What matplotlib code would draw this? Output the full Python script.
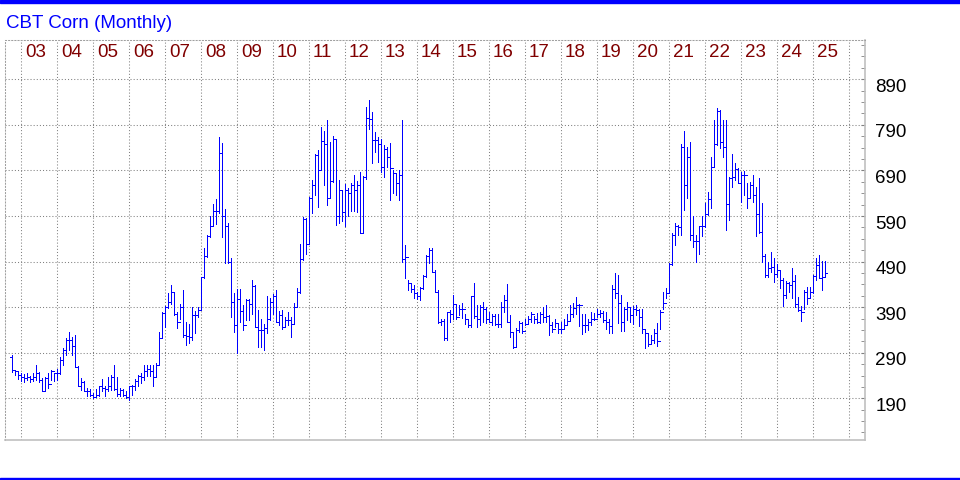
import matplotlib
matplotlib.use("Agg")
import matplotlib.pyplot as plt
import numpy as np
from matplotlib.patches import Rectangle
from matplotlib.transforms import ScaledTranslation, blended_transform_factory

plt.rcParams['font.family'] = ['Liberation Sans', 'DejaVu Sans']

# ---- data (monthly bars, first bar = Sep 2002) ----
start_year = 2002
start_month = 9

highs = [285,252,248,245,243,246,239,245,263,248,
         234,236,245,252,246,254,281,300,322,336,
         325,329,260,234,229,212,210,201,210,217,
         232,216,236,241,263,236,212,210,205,217,
         219,232,241,246,263,262,263,263,267,335,
         380,393,420,439,420,380,397,428,358,354,
         390,382,391,457,519,548,589,616,627,764,
         750,605,574,497,422,429,429,395,407,407,
         450,439,384,365,353,414,409,418,428,382,
         384,369,380,369,400,431,529,588,585,632,
         669,727,735,786,777,801,753,765,758,669,
         647,660,651,662,680,667,687,678,830,845,
         819,775,764,758,746,742,751,691,684,691,
         801,526,450,444,438,424,435,461,504,519,
         519,472,428,365,365,380,384,417,395,395,
         400,376,365,414,444,395,395,402,390,380,
         376,376,376,402,417,441,373,336,344,360,
         358,365,371,380,371,378,380,391,395,373,
         358,363,353,358,363,376,395,400,413,397,
         375,376,365,380,378,387,384,382,380,365,
         439,464,460,417,390,402,391,392,395,387,
         387,343,333,329,341,356,384,424,433,486,
         552,575,570,749,777,742,752,591,548,569,
         589,618,642,720,801,826,823,801,801,676,
         725,706,696,686,689,662,664,681,654,673,
         618,506,490,512,497,484,472,455,447,445,
         475,461,413,393,428,435,435,461,497,504,
         491,491]

lows = [248,241,232,229,226,230,226,229,230,226,
        205,205,212,230,229,230,244,263,285,296,
        285,258,216,208,205,195,194,190,192,195,
        205,194,205,208,208,195,195,194,190,186,
        197,208,216,223,230,238,240,216,237,263,
        322,347,388,398,373,344,365,325,308,311,
        319,334,369,384,455,500,545,570,572,596,
        545,486,486,369,336,289,358,340,362,362,
        376,349,303,303,297,333,362,376,358,350,
        343,346,351,324,354,391,422,493,507,528,
        596,636,609,690,658,614,632,665,570,575,
        578,568,590,602,602,599,552,553,672,780,
        706,731,709,687,676,698,625,640,636,625,
        490,453,427,424,411,407,406,430,456,486,
        468,424,356,351,318,318,358,363,363,373,
        366,354,347,347,366,347,351,358,356,358,
        351,351,347,347,380,358,325,300,303,336,
        333,351,353,358,356,355,356,358,358,328,
        336,347,334,333,343,351,362,369,376,349,
        331,336,340,351,362,369,369,358,343,333,
        334,409,355,338,338,362,358,353,373,349,
        333,300,305,311,312,305,343,385,409,420,
        482,526,548,548,603,629,537,523,488,506,
        547,565,592,607,698,745,739,720,559,581,
        654,669,662,621,637,608,632,621,547,552,
        490,457,457,468,446,457,433,393,409,424,
        409,391,382,360,387,398,410,422,450,453,
        428,457]

opens = [280,252,250,241,236,234,236,232,236,246,
         230,206,234,221,251,245,246,275,296,319,
         319,305,258,216,226,207,205,197,192,197,
         216,213,210,216,236,210,199,208,197,192,
         216,217,229,239,237,251,255,250,237,263,
         322,378,390,402,424,374,358,390,328,327,
         324,373,373,384,457,502,546,568,601,601,
         728,589,568,488,402,351,408,382,351,406,
         397,437,347,340,340,345,365,402,414,358,
         372,346,362,362,354,391,424,495,583,528,
         630,658,724,692,755,749,629,667,758,590,
         647,599,647,640,658,646,658,552,675,806,
         802,757,757,748,698,738,720,695,685,662,
         680,495,501,442,429,420,414,433,458,502,
         515,468,424,358,360,322,380,376,397,368,
         385,385,365,351,414,371,365,390,385,365,
         358,371,353,353,390,406,358,336,302,340,
         356,338,353,365,375,365,358,375,369,371,
         350,341,356,343,341,351,360,376,389,395,
         395,351,351,358,365,365,376,378,362,358,
         349,429,420,400,358,387,390,373,387,384,
         369,341,333,309,318,333,316,380,400,422,
         485,548,567,565,742,658,720,548,535,535,
         567,567,594,627,698,749,820,753,742,616,
         674,676,693,662,680,680,629,658,636,594,
         554,503,461,477,479,462,471,450,417,442,
         439,447,396,384,379,424,411,423,459,482,
         455,457]

closes = [252,250,241,236,234,236,232,236,246,230,
          206,234,221,251,245,246,275,296,319,319,
          305,258,216,226,207,205,197,192,197,216,
          213,210,216,236,210,199,208,197,192,216,
          217,229,239,237,251,255,250,237,263,322,
          378,390,402,424,374,358,390,328,327,324,
          373,373,384,457,502,546,568,601,601,728,
          589,568,488,402,351,408,382,351,406,397,
          437,347,340,340,345,365,402,414,358,372,
          346,362,362,354,391,424,495,583,528,630,
          658,724,692,755,749,629,667,758,590,647,
          599,647,640,658,646,658,552,675,806,802,
          757,757,748,698,738,720,695,685,662,680,
          495,501,442,429,420,414,433,458,502,515,
          468,424,358,360,322,380,376,397,368,385,
          385,365,351,414,371,365,390,385,365,358,
          371,353,353,390,406,358,336,302,340,356,
          338,353,365,375,365,358,375,369,371,350,
          341,356,343,341,351,360,376,389,395,395,
          351,351,358,365,365,376,378,362,358,349,
          429,420,400,358,387,390,373,387,384,369,
          341,333,309,318,333,316,380,400,422,485,
          548,567,565,742,658,720,548,535,535,567,
          567,594,627,698,749,820,753,742,616,674,
          676,693,662,680,680,629,658,636,594,554,
          503,461,477,479,462,471,450,417,442,439,
          447,396,384,379,424,411,423,459,482,455,
          457,466]

year_labels = ['03','04','05','06','07','08','09','10','11','12','13','14',
               '15','16','17','18','19','20','21','22','23','24','25']
label_years = list(range(2003, 2026))
grid_years = list(range(2003, 2027))
price_ticks = [190, 290, 390, 490, 590, 690, 790, 890]

# ---- figure ----
W, H = 960, 480
fig = plt.figure(figsize=(W / 100, H / 100), dpi=100)
fig.patch.set_facecolor('white')

ax = fig.add_axes([5 / W, 40 / H, 860 / W, 400 / H])
ax.set_xlim(2002.547, 2026.436)
ax.set_ylim(98.5, 976.2)

n = len(closes)
xs = np.array([start_year + (start_month + k) / 12.0 for k in range(n)])
tick = 2.0 / 36.0

bar_color = '#0000ff'
lw = 0.62
ax.vlines(xs, lows, highs, color=bar_color, linewidth=lw, antialiased=False, zorder=3)
ax.hlines(opens, xs - tick, xs, color=bar_color, linewidth=lw, antialiased=False, zorder=3)
ax.hlines(closes, xs, xs + tick, color=bar_color, linewidth=lw, antialiased=False, zorder=3)

# grid
grid_kw = dict(color='#808080', linewidth=0.75, linestyle=(0, (1, 2)), zorder=1)
for gy in grid_years:
    ax.axvline(gy, **grid_kw)
for pt in price_ticks:
    ax.axhline(pt, **grid_kw)

# spines
for s in ['left', 'top']:
    ax.spines[s].set_color('#a0a0a0')
    ax.spines[s].set_linestyle((0, (1, 2)))
    ax.spines[s].set_linewidth(0.75)
for s in ['right', 'bottom']:
    ax.spines[s].set_color('#c0c0c0')
    ax.spines[s].set_linewidth(1.2)

# x axis: no ticks
ax.set_xticks([])

# y axis on right
ax.yaxis.tick_right()
ax.set_yticks(price_ticks)
ax.set_yticklabels([str(p) for p in price_ticks])
ax.set_yticks(np.arange(115, 976, 25), minor=True)
ax.tick_params(axis='y', which='major', direction='in', length=3, color='#808080',
               labelsize=13.5, pad=7.5, labelcolor='black')
ax.tick_params(axis='y', which='minor', direction='in', length=3, color='#808080')
offset = ScaledTranslation(0, -6 / 100, fig.dpi_scale_trans)
for lab in ax.get_yticklabels():
    lab.set_transform(lab.get_transform() + offset)

# year labels
trans = blended_transform_factory(ax.transData, ax.transAxes)
for yr, lab in zip(label_years, year_labels):
    ax.text(yr + 3.5 / 36, (440 - 53) / 400, lab, transform=trans, ha='left', va='center',
            fontsize=13.5, color='#800000', zorder=4)

# title
fig.text(5.5 / W, (H - 27.5) / H, 'CBT Corn (Monthly)', color='#0000ff', fontsize=13.5,
         ha='left', va='baseline')

# blue rules top and bottom
fig.patches.append(Rectangle((0, (H - 3) / H), 1, 3 / H, transform=fig.transFigure,
                             color='#0000ff', zorder=10))
fig.patches.append(Rectangle((0, 0), 1, 2.5 / H, transform=fig.transFigure,
                             color='#0000ff', zorder=10))

fig.savefig('out.png', dpi=100, facecolor='white')
